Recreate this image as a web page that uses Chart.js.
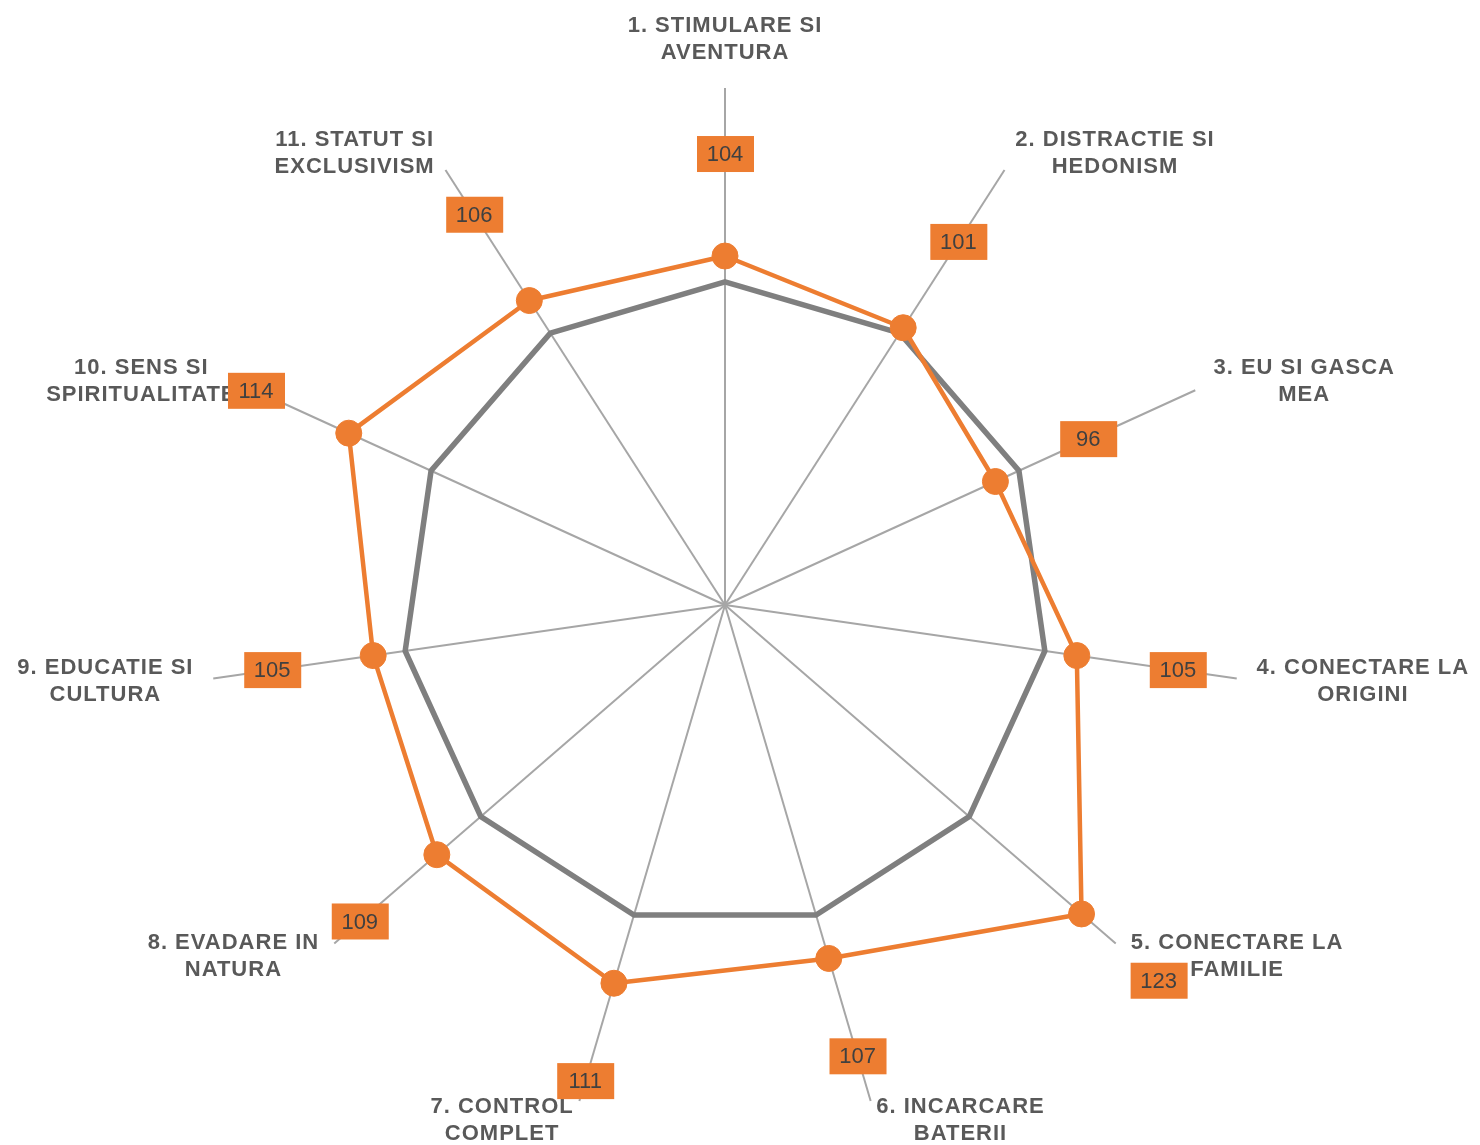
<!DOCTYPE html>
<html>
<head>
<meta charset="utf-8">
<script src="https://cdn.jsdelivr.net/npm/chart.js"></script>
<style>
  html, body { margin: 0; padding: 0; background: #fff; }
  #wrap { width: 1480px; height: 1145px; }
</style>
</head>
<body>
<div id="wrap"><canvas id="radarChart"></canvas></div>
<script>
const categorii = [
    ['1. STIMULARE SI', 'AVENTURA'],
    ['2. DISTRACTIE SI', 'HEDONISM'],
    ['3. EU SI GASCA', 'MEA'],
    ['4. CONECTARE LA', 'ORIGINI'],
    ['5. CONECTARE LA', 'FAMILIE'],
    ['6. INCARCARE', 'BATERII'],
    ['7. CONTROL', 'COMPLET'],
    ['8. EVADARE IN', 'NATURA'],
    ['9. EDUCATIE SI', 'CULTURA'],
    ['10. SENS SI', 'SPIRITUALITATE'],
    ['11. STATUT SI', 'EXCLUSIVISM']
];
const valoriIndex = [104, 101, 96, 105, 123, 107, 111, 109, 105, 114, 106];
const valoriBaza = [100, 100, 100, 100, 100, 100, 100, 100, 100, 100, 100];
const scalaMin = 50;
const scalaMax = 130;

// category names at the end of each spoke + orange value boxes
const etichete = {
    id: 'etichete',
    afterDatasetsDraw(chart) {
        const ctx = chart.ctx;
        const r = chart.scales.r;
        const rand = 27;
        ctx.save();
        ctx.textAlign = 'center';
        ctx.textBaseline = 'middle';

        ctx.letterSpacing = '1px';
        ctx.font = 'bold 22px "Liberation Sans", Arial, sans-serif';
        ctx.fillStyle = '#595959';
        categorii.forEach((linii, i) => {
            const p = r.getPointPosition(i, r.drawingArea + 20);
            const lat = Math.max(...linii.map(l => ctx.measureText(l).width));
            const h = linii.length * rand;
            let cx, cy;
            if (Math.abs(p.x - r.xCenter) < 5) {
                cx = p.x;
                cy = p.y < r.yCenter ? p.y - 2 - h / 2 : p.y + 2 + h / 2;
            } else {
                cx = p.x > r.xCenter ? p.x + lat / 2 : p.x - lat / 2;
                cy = p.y;
            }
            linii.forEach((l, j) => ctx.fillText(l, cx, cy - h / 2 + rand / 2 + j * rand));
        });

        ctx.letterSpacing = '0px';
        ctx.font = '22px "Liberation Sans", Arial, sans-serif';
        valoriIndex.forEach((v, i) => {
            const p = r.getPointPosition(i, r.getDistanceFromCenterForValue(v) + 102);
            ctx.fillStyle = '#ED7D31';
            ctx.fillRect(p.x - 28, p.y - 18, 57, 36);
            ctx.fillStyle = '#404040';
            ctx.fillText(String(v), p.x, p.y + 1);
        });
        ctx.restore();
    }
};

new Chart(document.getElementById('radarChart'), {
    type: 'radar',
    data: {
        labels: categorii,
        datasets: [
            {
                label: 'Index', data: valoriIndex,
                borderColor: '#ED7D31', backgroundColor: 'transparent', borderWidth: 4.5, borderJoinStyle: 'round',
                pointRadius: 13, pointBorderWidth: 1, pointBackgroundColor: '#ED7D31', pointBorderColor: '#ED7D31', fill: false
            },
            {
                label: 'Baza', data: valoriBaza,
                borderColor: '#7F7F7F', backgroundColor: 'transparent', borderWidth: 5.5, borderJoinStyle: 'miter',
                pointRadius: 0, fill: false
            }
        ]
    },
    options: {
        responsive: true, maintainAspectRatio: false, animation: false,
        layout: { padding: { top: 88, bottom: 23, left: 0, right: 30 } },
        plugins: { legend: { display: false }, tooltip: { enabled: false } },
        scales: {
            r: {
                min: scalaMin, max: scalaMax,
                grid: { display: false },
                angleLines: { display: true, color: '#A6A6A6', lineWidth: 2 },
                ticks: { display: false },
                pointLabels: { display: false }
            }
        }
    },
    plugins: [etichete]
});
</script>
</body>
</html>
